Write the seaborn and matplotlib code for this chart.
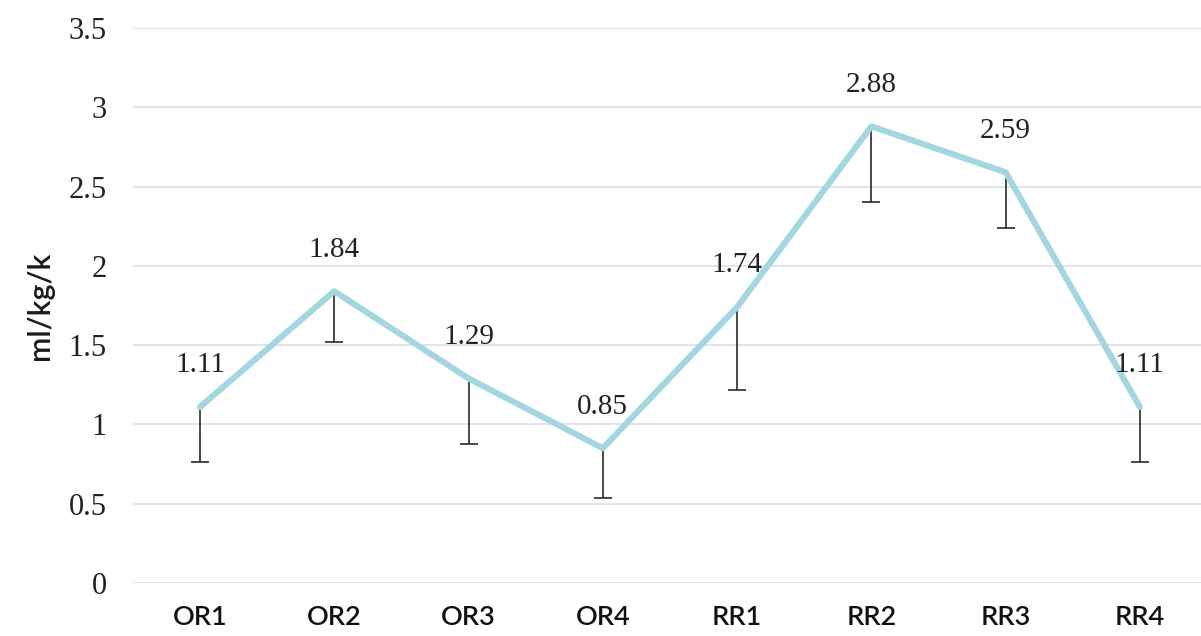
import numpy as np
import pandas as pd
import matplotlib
matplotlib.use("Agg")
import matplotlib.pyplot as plt
import seaborn as sns

categories = ["OR1", "OR2", "OR3", "OR4", "RR1", "RR2", "RR3", "RR4"]
values = [1.11, 1.84, 1.29, 0.85, 1.74, 2.88, 2.59, 1.11]
lower_ends = [0.765, 1.52, 0.876, 0.536, 1.217, 2.404, 2.236, 0.761]
y_ticks = [0, 0.5, 1, 1.5, 2, 2.5, 3, 3.5]
y_tick_labels = ["0", "0.5", "1", "1.5", "2", "2.5", "3", "3.5"]
y_label = "ml/kg/k"

sns.set_theme(style="white")
plt.rcParams["font.family"] = ["Liberation Serif", "DejaVu Serif"]

W, H = 1201, 636
fig = plt.figure(figsize=(W / 100, H / 100), dpi=100)
left_px, right_px = 132.9, 1207.0
top_px, bottom_px = 28.0, 583.0
ax = fig.add_axes([left_px / W, (H - bottom_px) / H,
                   (right_px - left_px) / W, (bottom_px - top_px) / H])

df = pd.DataFrame({"cat": categories, "val": values})
x = np.arange(len(categories))

for yv in y_ticks:
    ax.axhline(yv, color="#d8dde4", lw=1.1, zorder=0)

lower_err = np.array(values) - np.array(lower_ends)
eb = ax.errorbar(x, values, yerr=[lower_err, np.zeros_like(lower_err)],
                 fmt="none", ecolor="#2a2a2a", elinewidth=1.2,
                 capsize=6.5, capthick=1.2, zorder=2)
if len(eb[1]) > 1:
    eb[1][1].set_visible(False)

sns.lineplot(data=df, x="cat", y="val", ax=ax, color="#a3d6df",
             linewidth=4.4, sort=False, zorder=3)

for xi, v in zip(x, values):
    ax.annotate(f"{v:.2f}", (xi, v), xytext=(0, 30), textcoords="offset points",
                ha="center", va="center", fontsize=21, color="#222222",
                annotation_clip=False)

ax.set_xlim(-0.5, len(categories) - 0.5)
ax.set_ylim(0, 3.5)
ax.set_xticks(x)
ax.set_xticklabels(categories, family=["Lato", "DejaVu Sans"], fontsize=19.5,
                   color="#111111", fontweight="semibold")
ax.set_yticks(y_ticks)
ax.set_yticklabels(y_tick_labels, fontsize=22, color="#222222")
ax.tick_params(axis="x", length=0, pad=16)
ax.tick_params(axis="y", length=0, pad=19)
ax.set_xlabel("")
ax.set_ylabel(y_label, family=["Lato", "DejaVu Sans"], fontsize=22,
              fontweight="semibold", color="#1a1a1a", labelpad=10)
for s in ax.spines.values():
    s.set_visible(False)
ax.set_facecolor("white")
fig.patch.set_facecolor("white")

fig.savefig("out.png", dpi=100)
